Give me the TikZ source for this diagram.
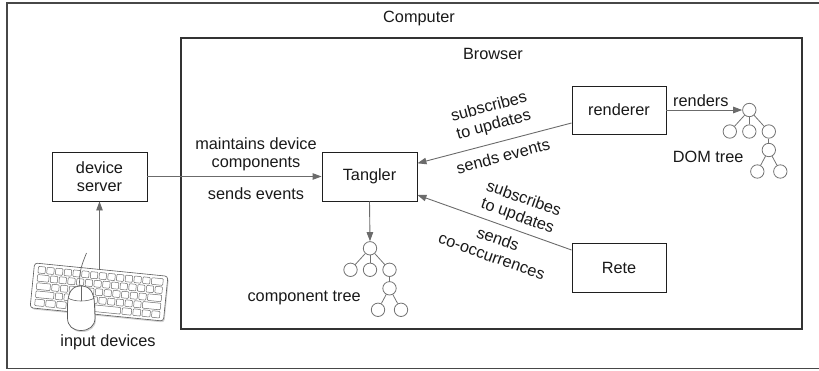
\documentclass[tikz,border=0pt]{standalone}
\usepackage{fontspec}
\setmainfont{Liberation Sans}
\usetikzlibrary{arrows.meta,shadows}
\newcommand\labfont{\fontsize{16.3}{18.4}\selectfont}
\newcommand\kbkey[3]{\draw[kkey] ({-63.5+(#1)*8.76+0.8},{-19.5+(#2)*8.2}) rectangle ++({(#3)*8.76-1.6},6.6);}
\newcommand\mytree[3]{%
  \node[tn] (#1r) at (#2,#3) {};
  \node[tn] (#1a) at ({#2-19.5},{#3+21.5}) {};
  \node[tn] (#1b) at ({#2},{#3+21.5}) {};
  \node[tn] (#1c) at ({#2+19.5},{#3+21.5}) {};
  \node[tn] (#1d) at ({#2+19.5},{#3+40}) {};
  \node[tn] (#1e) at ({#2+8},{#3+61.5}) {};
  \node[tn] (#1f) at ({#2+31},{#3+61.5}) {};
  \draw[te] (#1r) -- (#1a);
  \draw[te] (#1r) -- (#1b);
  \draw[te] (#1r) -- (#1c);
  \draw[te] (#1c) -- (#1d);
  \draw[te] (#1d) -- (#1e);
  \draw[te] (#1d) -- (#1f);}
\begin{document}
\begin{tikzpicture}[x=1pt,y=-1pt,
  box/.style={draw=black!88, line width=0.9pt, fill=white, minimum width=95pt, minimum height=49pt, inner sep=0pt, font=\labfont, align=center, text=black!90},
  lbl/.style={font=\labfont, inner sep=0pt, text=black!90, align=center},
  arr/.style={draw=black!58, line width=0.9pt, -{Triangle[length=9pt,width=6.5pt]}},
  tn/.style={circle, draw=black!55, line width=0.8pt, minimum size=13.4pt, inner sep=0pt},
  te/.style={draw=black!55, line width=0.8pt},
  kkey/.style={draw=black!58, line width=0.5pt, rounded corners=0.8pt, fill=white}]
\useasboundingbox (0,0) rectangle (819,370);
\clip (0,0) rectangle (819,370);
% outer and browser frames
\draw[draw=black!72, line width=1.6pt] (7,3) rectangle (835,368.5);
\draw[draw=black!80, line width=1.1pt] (181,38) rectangle (802,329);
\node[lbl, anchor=base] (comp) at (419,22.5) {Computer};
\node[lbl, anchor=base] (brow) at (493,59.5) {Browser};
% boxes
\node[box] (ds) at (99.5,176.5) {device\\server};
\node[box] (tg) at (369.5,176.5) {Tangler};
\node[box, minimum width=94pt, minimum height=48pt] (rd) at (619,110) {renderer};
\node[box, minimum width=94pt, minimum height=49pt] (rt) at (619,267.5) {Rete};
% trees
\mytree{c}{370}{248.3}
\mytree{d}{749.3}{110}
\node[lbl, anchor=base east] (ctl) at (361,301) {component tree};
\node[lbl, anchor=base west] (dtl) at (672.7,162.7) {DOM tree};
% arrows
\draw[arr] (ds.east) -- (tg.west);
\draw[arr] ([yshift=-13pt]rd.west) -- ([yshift=13.2pt]tg.east);
\draw[arr] ([yshift=17.5pt]rt.west) -- ([yshift=-18.5pt]tg.east);
\draw[arr] (tg.south) -- (cr.north);
\draw[arr] (rd.east) -- (dr.west);
% labels
\node[lbl, anchor=base] (l1) at (256,167.7) {maintains device\\components};
\node[lbl, anchor=base] (l3) at (256,199.3) {sends events};
\node[lbl, anchor=base west] (l4) at (673,106) {renders};
\node[lbl, rotate=15] (l5) at (491.5,116.5) {subscribes\\to updates};
\node[lbl, rotate=15] (l7) at (503,156) {sends events};
\node[lbl, rotate=-19.6] (l8) at (520.5,208) {subscribes\\to updates};
\node[lbl, rotate=-19.6] (l10) at (495,247.5) {sends\\co-occurrences};
% input devices
\coordinate (kbtop) at (99.5,270);
\draw[arr] (kbtop) -- (ds.south);
\begin{scope}[shift={(99,292)}, rotate=-5.7]
  \draw[draw=black!65, line width=0.6pt, fill=white, rounded corners=3pt,
        drop shadow={shadow xshift=1pt, shadow yshift=-1.5pt, opacity=0.35}]
        (-67,-22.5) rectangle (67,22.5);
  \foreach \i in {0,...,12} {\kbkey{\i}{0}{1}}
  \kbkey{13}{0}{1.5}
  \kbkey{0}{1}{1.5}
  \foreach \i in {0,...,12} {\kbkey{1.5+\i}{1}{1}}
  \kbkey{0}{2}{1.75}
  \foreach \i in {0,...,10} {\kbkey{1.75+\i}{2}{1}}
  \kbkey{12.75}{2}{1.75}
  \kbkey{0}{3}{2.25}
  \foreach \i in {0,...,9} {\kbkey{2.25+\i}{3}{1}}
  \kbkey{12.25}{3}{2.25}
  \kbkey{0}{4}{1.25}
  \kbkey{1.25}{4}{1.25}
  \kbkey{2.5}{4}{1.25}
  \kbkey{3.75}{4}{1.25}
  \kbkey{5}{4}{5}
  \kbkey{10}{4}{1.25}
  \kbkey{11.25}{4}{1.05}
  \kbkey{12.3}{4}{1.1}
  \kbkey{13.4}{4}{1.1}
\end{scope}
\draw[draw=black!60, line width=0.7pt] (86.5,253) .. controls (83,262) and (78,272) .. (80,288);
\draw[draw=black!65, line width=0.7pt, fill=white,
      drop shadow={shadow xshift=1pt, shadow yshift=-1.5pt, opacity=0.35}]
  (81,286) .. controls (72,286) and (68,292) .. (67.5,305) -- (67.5,318)
  .. controls (67.5,326) and (73,330.5) .. (81,330.5)
  .. controls (89,330.5) and (95,326) .. (95,318) -- (94.5,305)
  .. controls (94,292) and (90,286) .. (81,286) -- cycle;
\draw[draw=black!60, line width=0.6pt] (81,286) -- (81,300.5);
\draw[draw=black!60, line width=0.6pt] (68,298) .. controls (74,302) and (88,302) .. (94.5,298);
\node[lbl, anchor=base] (idl) at (108,346.5) {input devices};
\end{tikzpicture}
\end{document}
